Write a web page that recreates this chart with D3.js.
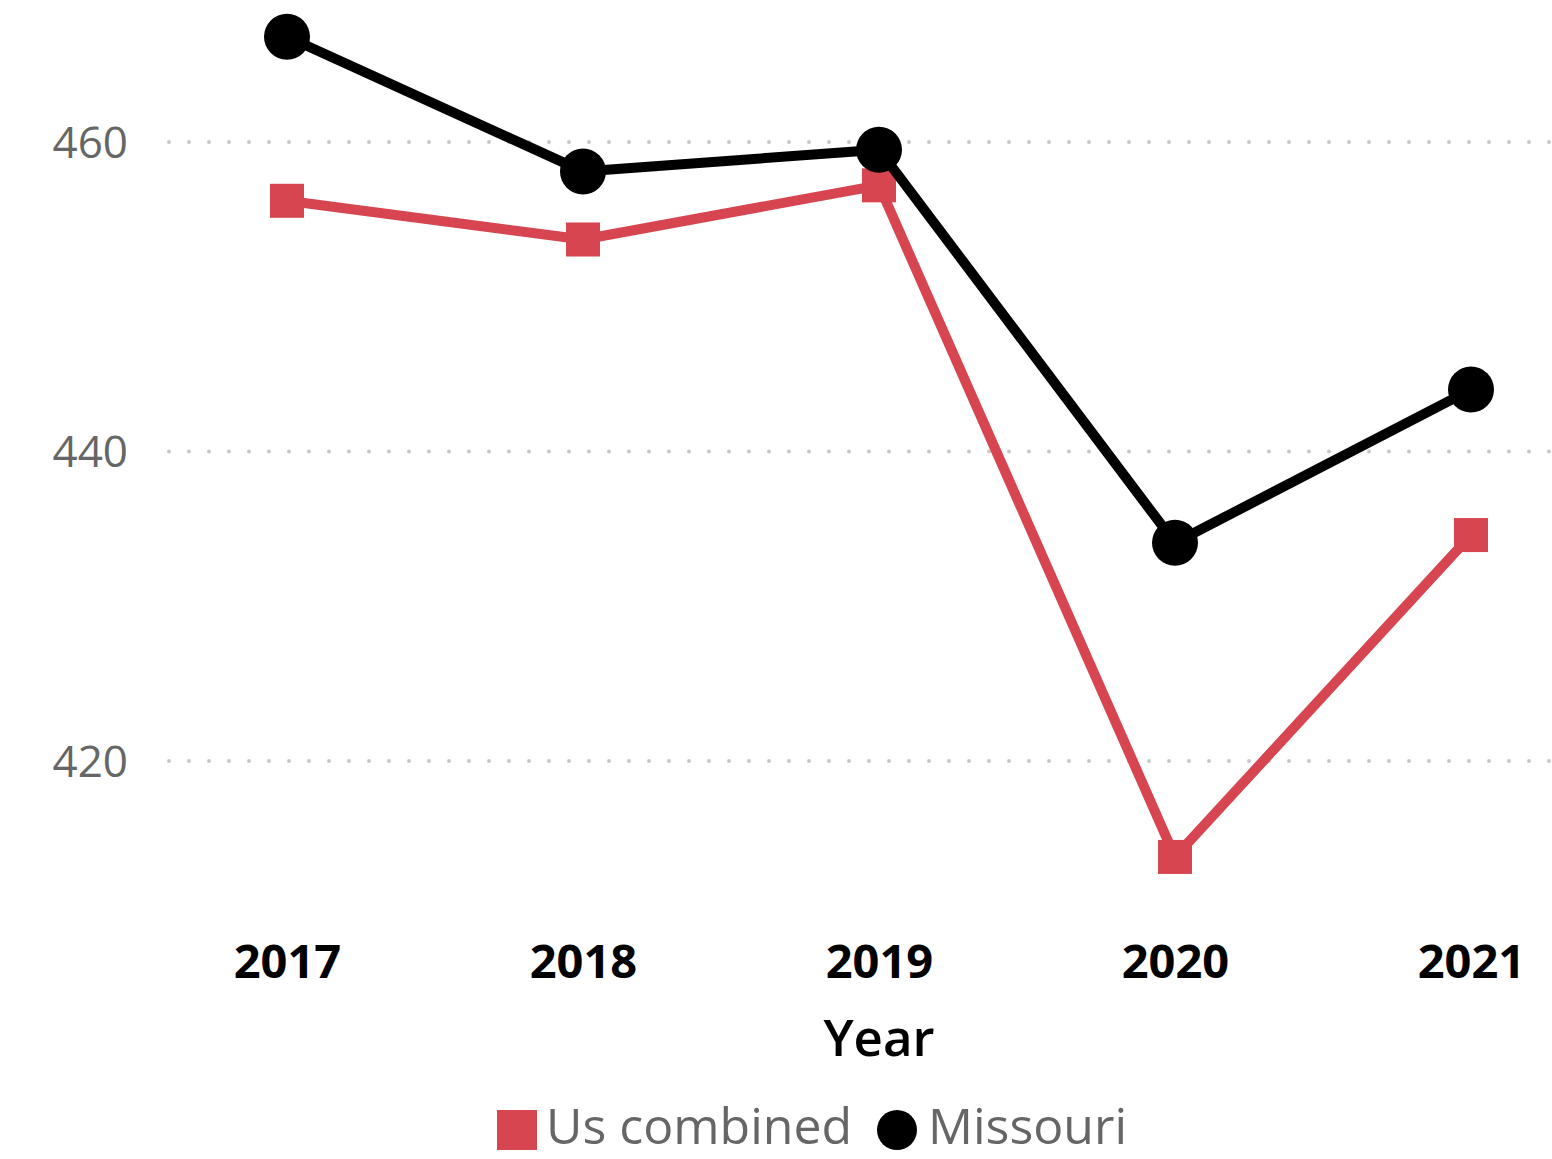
<!DOCTYPE html>
<html><head><meta charset="utf-8">
<script src="https://cdn.jsdelivr.net/npm/d3@7"></script>
<style>body{margin:0;background:#fff}svg{display:block}</style>
</head><body>
<svg id="c" width="1552" height="1159"></svg>
<script>
const years = ["2017","2018","2019","2020","2021"];
const usCombined = [456.2, 453.7, 457.2, 413.8, 434.6];
const missouri = [466.8, 458.1, 459.5, 434.1, 444.0];
const yTicks = [420, 440, 460];
const seriesNames = ["Us combined", "Missouri"];

const svg = d3.select("#c");
const font = "'Open Sans', 'Noto Sans', sans-serif";
const x = d3.scalePoint().domain(years).range([287, 1471]);
const y = d3.scaleLinear().domain([420, 460]).range([761, 142]);
const red = "#D64550";

// gridlines
const grid = svg.append("g");
yTicks.forEach(t => {
  grid.append("line").attr("x1", 169).attr("x2", 1552)
    .attr("y1", y(t)).attr("y2", y(t))
    .attr("stroke", "#c8c8c8").attr("stroke-width", 4)
    .attr("stroke-linecap", "round").attr("stroke-dasharray", "0 20");
});

// y axis
const yAxis = svg.append("g").attr("transform", "translate(128,0)")
  .call(d3.axisLeft(y).tickValues(yTicks).tickSize(0).tickPadding(0));
yAxis.select(".domain").remove();
yAxis.selectAll("text").attr("font-family", font).attr("font-size", 44)
  .attr("fill", "#666").attr("dy", "0.35em");

// x axis
const xAxis = svg.append("g").attr("transform", "translate(0,962)")
  .call(d3.axisBottom(x).tickSize(0).tickPadding(0));
xAxis.select(".domain").remove();
xAxis.selectAll("text").attr("font-family", font).attr("font-size", 47)
  .attr("font-weight", 700).attr("fill", "#000").attr("dy", "0.35em");

svg.append("text").attr("x", x("2019")).attr("y", 1056).attr("text-anchor", "middle")
  .attr("font-family", font).attr("font-size", 51).attr("font-weight", 600).attr("fill", "#000").text("Year");

const line = d3.line().x((d, i) => x(years[i])).y(d => y(d));

// US combined
svg.append("path").datum(usCombined).attr("d", line).attr("fill", "none")
  .attr("stroke", red).attr("stroke-width", 10).attr("stroke-linejoin", "round");
svg.append("g").selectAll("rect").data(usCombined).join("rect")
  .attr("x", (d, i) => x(years[i]) - 17).attr("y", d => y(d) - 17)
  .attr("width", 34).attr("height", 34).attr("fill", red);

// Missouri
svg.append("path").datum(missouri).attr("d", line).attr("fill", "none")
  .attr("stroke", "#000").attr("stroke-width", 10).attr("stroke-linejoin", "round");
svg.append("g").selectAll("circle").data(missouri).join("circle")
  .attr("cx", (d, i) => x(years[i])).attr("cy", d => y(d)).attr("r", 23).attr("fill", "#000");

// legend
const lg = svg.append("g");
lg.append("rect").attr("x", 497).attr("y", 1110).attr("width", 40).attr("height", 40).attr("fill", red);
lg.append("text").attr("x", 546).attr("y", 1144).attr("font-family", font).attr("font-size", 50)
  .attr("fill", "#666").text(seriesNames[0]);
lg.append("circle").attr("cx", 897).attr("cy", 1130).attr("r", 20).attr("fill", "#000");
lg.append("text").attr("x", 928).attr("y", 1144).attr("font-family", font).attr("font-size", 50)
  .attr("fill", "#666").text(seriesNames[1]);
</script>
</body></html>
